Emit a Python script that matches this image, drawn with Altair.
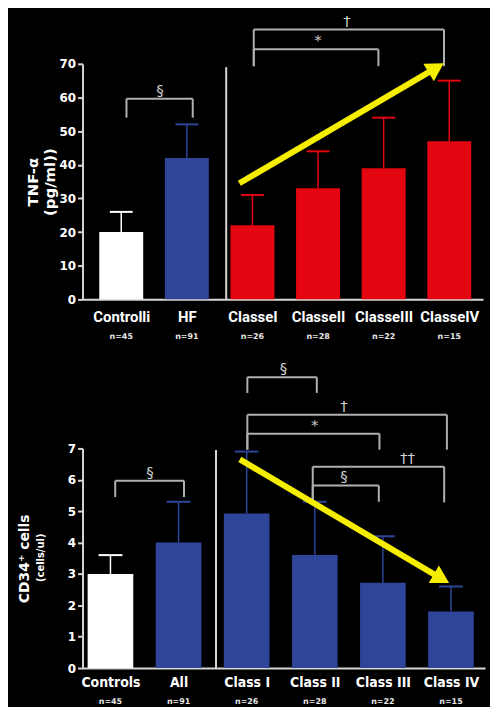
import json
import altair as alt
import pandas as pd

# ---------------- top panel: TNF-alpha ----------------
top_categories = ["Controlli", "HF", "ClasseI", "ClasseII", "ClasseIII", "ClasseIV"]
top_counts = ["n=45", "n=91", "n=26", "n=28", "n=22", "n=15"]
top_means = [20, 42, 22, 33, 39, 47]
top_err_upper = [26, 52, 31, 44, 54, 65]
top_groups = ["control", "hf", "nyha", "nyha", "nyha", "nyha"]

top_sig_from = [0.08, 2.02, 2.02]
top_sig_to = [1.09, 4.92, 3.92]
top_sig_level = [59.6, 80.2, 74.3]
top_sig_foot = [54.0, 69.3, 69.3]
top_sig_label = ["§", "†", "*"]
top_sig_label_x = [0.59, 3.44, 3.0]

top_arrow_x = [1.80, 4.80]
top_arrow_y = [34.5, 68.8]
top_divider = [1.60, 69.0]

# ---------------- bottom panel: CD34+ cells ----------------
bot_categories = ["Controls", "All", "Class I", "Class II", "Class III", "Class IV"]
bot_counts = ["n=45", "n=91", "n=26", "n=28", "n=22", "n=15"]
bot_means = [3.0, 4.0, 4.93, 3.6, 2.72, 1.8]
bot_err_upper = [3.6, 5.3, 6.9, 5.3, 4.2, 2.6]
bot_groups = ["control", "hf", "hf", "hf", "hf", "hf"]

bot_sig_from = [0.07, 2.01, 2.01, 2.01, 2.97, 2.97]
bot_sig_to = [1.08, 3.03, 4.94, 3.95, 4.90, 3.94]
bot_sig_level = [5.97, 9.27, 8.07, 7.47, 6.42, 5.82]
bot_sig_foot = [5.45, 8.77, 6.96, 6.96, 5.28, 5.30]
bot_sig_label = ["§", "§", "†", "*", "††", "§"]
bot_sig_label_x = [0.58, 2.54, 3.43, 3.0, 4.36, 3.43]

bot_arrow_x = [1.90, 4.86]
bot_arrow_y = [6.65, 2.85]
bot_divider = [1.55, 6.95]

BAR_COLORS = alt.Scale(domain=["control", "hf", "nyha"], range=["#ffffff", "#2e4599", "#e3050f"])
AXIS_GREY = "#d6d6d6"
BRACKET_GREY = "#b0b0b0"
YELLOW = "#f6ee00"


def panel(categories, counts, means, err_upper, groups, err_colors,
          sig_from, sig_to, sig_level, sig_foot, sig_label, sig_label_x,
          arrow_x, arrow_y, arrow_angle, divider,
          ymax, ystep, ytitle, width, height, xdom,
          label_font, label_size, label_pad, n_offset, title_pad, title_size):
    bars = pd.DataFrame({
        "i": list(range(len(categories))),
        "cat": categories,
        "n": counts,
        "mean": means,
        "err": err_upper,
        "group": groups,
    })
    segs = []
    for l, r, lev, foot in zip(sig_from, sig_to, sig_level, sig_foot):
        segs.append({"x": l, "x2": r, "y": lev, "y2": lev})
        segs.append({"x": l, "x2": l, "y": lev, "y2": foot})
        segs.append({"x": r, "x2": r, "y": lev, "y2": foot})
    segs = pd.DataFrame(segs)
    sig_text = pd.DataFrame({"x": sig_label_x, "y": sig_level, "s": sig_label})
    arrow = pd.DataFrame({"x": [arrow_x[0]], "x2": [arrow_x[1]],
                          "y": [arrow_y[0]], "y2": [arrow_y[1]]})
    head = pd.DataFrame({"x": [arrow_x[1]], "y": [arrow_y[1]]})
    div = pd.DataFrame({"x": [divider[0]], "y": [divider[1]]})

    label_map = json.dumps(categories)
    xscale = alt.Scale(domain=xdom, nice=False, zero=False)
    xaxis = alt.Axis(values=list(range(len(categories))), labelExpr=f"{label_map}[datum.value]",
                     ticks=False, grid=False, title=None, domainColor=AXIS_GREY, domainWidth=2,
                     labelColor="white", labelFont=label_font, labelFontSize=label_size,
                     labelFontWeight="bold", labelPadding=label_pad, labelFlush=False,
                     labelOverlap=False)
    yscale = alt.Scale(domain=[0, ymax], nice=False)
    yaxis = alt.Axis(values=list(range(0, ymax + 1, ystep)), grid=False, domainColor=AXIS_GREY,
                     domainWidth=2, tickColor=AXIS_GREY, tickWidth=2, tickSize=5,
                     labelColor="white", labelFont="DejaVu Sans", labelFontWeight="bold",
                     labelFontSize=12, labelPadding=2, title=ytitle, titleColor="white",
                     titleFont="DejaVu Sans", titleFontWeight="bold", titleFontSize=title_size,
                     titlePadding=title_pad, titleLineHeight=18)

    def X(f):
        return alt.X(f, scale=xscale, axis=xaxis)

    def Y(f):
        return alt.Y(f, scale=yscale, axis=yaxis)

    base = alt.Chart(bars).transform_calculate(
        lo="datum.i - 0.335", hi="datum.i + 0.335",
        clo="datum.i - 0.175", chi="datum.i + 0.175")

    bar_layer = base.mark_bar().encode(
        x=X("lo:Q"), x2="hi:Q", y=Y("mean:Q"), y2=alt.datum(0),
        color=alt.Color("group:N", scale=BAR_COLORS, legend=None))
    err_scale = alt.Scale(domain=["control", "hf", "nyha"], range=err_colors)
    err_stem = base.mark_rule(strokeWidth=1.5).encode(
        x=X("i:Q"), y=Y("mean:Q"), y2="err:Q",
        color=alt.Color("group:N", scale=err_scale, legend=None))
    err_cap = base.mark_rule(strokeWidth=2).encode(
        x=X("clo:Q"), x2="chi:Q", y=Y("err:Q"),
        color=alt.Color("group:N", scale=err_scale, legend=None))
    n_text = base.mark_text(color="#e8e8e8", fontSize=8, font="DejaVu Sans",
                            fontWeight="bold").encode(
        x=X("i:Q"), y=alt.value(height + n_offset), text="n:N")

    div_layer = alt.Chart(div).mark_rule(color=AXIS_GREY, strokeWidth=2).encode(
        x=X("x:Q"), y=Y("y:Q"), y2=alt.datum(0))
    seg_layer = alt.Chart(segs).mark_rule(color=BRACKET_GREY, strokeWidth=2).encode(
        x=X("x:Q"), x2="x2:Q", y=Y("y:Q"), y2="y2:Q")
    sig_layer = alt.Chart(sig_text).mark_text(color="#d0d0d0", fontSize=15, font="DejaVu Sans",
                                             baseline="bottom", dy=-1).encode(
        x=X("x:Q"), y=Y("y:Q"), text="s:N")
    arrow_layer = alt.Chart(arrow).mark_rule(color=YELLOW, strokeWidth=6).encode(
        x=X("x:Q"), x2="x2:Q", y=Y("y:Q"), y2="y2:Q")
    head_layer = alt.Chart(head).mark_point(shape="triangle-right", filled=True, size=420,
                                            color=YELLOW, opacity=1, angle=arrow_angle).encode(
        x=X("x:Q"), y=Y("y:Q"))

    return alt.layer(bar_layer, err_stem, err_cap, div_layer, seg_layer, sig_layer,
                     arrow_layer, head_layer, n_text).properties(width=width, height=height)


top = panel(top_categories, top_counts, top_means, top_err_upper, top_groups,
            ["#d8d8d8", "#2a3f8e", "#a3060c"],
            top_sig_from, top_sig_to, top_sig_level, top_sig_foot, top_sig_label, top_sig_label_x,
            top_arrow_x, top_arrow_y, 329, top_divider,
            70, 10, ["TNF-α", "(pg/ml))"], 403, 237, [-0.59, 5.515],
            "Roboto", 15, 10, 38, 1, 15)

bottom = panel(bot_categories, bot_counts, bot_means, bot_err_upper, bot_groups,
               ["#d8d8d8", "#2a3f8e", "#2a3f8e"],
               bot_sig_from, bot_sig_to, bot_sig_level, bot_sig_foot, bot_sig_label, bot_sig_label_x,
               bot_arrow_x, bot_arrow_y, 30, bot_divider,
               7, 1, "CD34⁺ cells", 405, 221, [-0.41, 5.5],
               "DejaVu Sans Condensed", 14, 8, 34, 36, 14)

subtitle = pd.DataFrame({"t": ["(cells/ul)"]})
bottom = alt.layer(
    bottom,
    alt.Chart(subtitle).mark_text(color="white", fontSize=10, font="DejaVu Sans",
                                  fontWeight="bold", angle=270).encode(
        x=alt.value(-42), y=alt.value(110), text="t:N"),
).properties(width=405, height=221)

chart = alt.vconcat(top, bottom, spacing=20).properties(
    background="black", padding={"left": 9, "top": 3, "right": 5, "bottom": 0}
).configure_view(stroke=None)

chart.save("out.html", embed_options={"renderer": "svg", "actions": False})
